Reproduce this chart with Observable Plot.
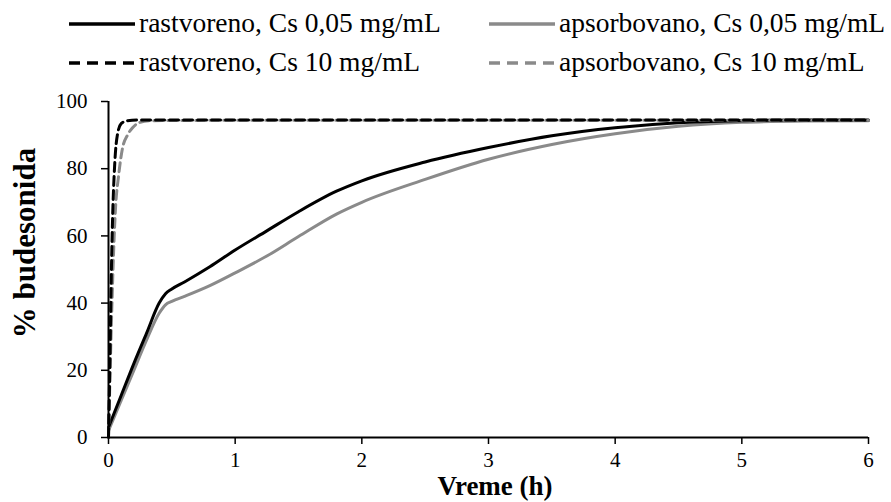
<!DOCTYPE html>
<html>
<head>
<meta charset="utf-8">
<script src="https://cdn.jsdelivr.net/npm/d3@7"></script>
<script src="https://cdn.jsdelivr.net/npm/@observablehq/plot@0.6"></script>
<style>
  html, body { margin: 0; padding: 0; background: #fff; }
</style>
</head>
<body>
<div id="wrap">
  <div id="legend"></div>
  <div id="chart"></div>
</div>
<script>
// ---- data ----
const seriesNames = [
  "rastvoreno, Cs 0,05 mg/mL",
  "apsorbovano, Cs 0,05 mg/mL",
  "rastvoreno, Cs 10 mg/mL",
  "apsorbovano, Cs 10 mg/mL"
];
const timeSolid = [0, 0.1, 0.2, 0.3, 0.4, 0.45, 0.5, 0.6, 0.8, 1, 1.25, 1.5, 1.8, 2, 2.5, 3, 3.5, 4, 4.5, 5, 5.5, 6];
const rastvoreno005 = [3, 12.5, 22, 31, 40, 42.8, 44.2, 46.3, 50.8, 55.8, 61.5, 67.2, 73.3, 76.4, 82, 86.3, 89.8, 92.2, 93.7, 94.3, 94.5, 94.5];
const apsorbovano005 = [2, 11, 20, 29, 37, 39.5, 40.5, 42, 45.2, 49, 54, 59.8, 66.5, 70, 76.8, 82.8, 87.2, 90.4, 92.6, 93.8, 94.2, 94.3];
const timeDashedBlack = [0, 0.01, 0.02, 0.03, 0.05, 0.07, 0.1, 0.15, 0.25, 1, 2, 3, 4, 5, 6];
const rastvoreno10 = [0, 20, 44, 62, 82, 90, 93.4, 94.3, 94.5, 94.5, 94.5, 94.5, 94.5, 94.5, 94.5];
const timeDashedGray = [0, 0.02, 0.04, 0.055, 0.08, 0.11, 0.15, 0.19, 0.25, 0.35, 1, 2, 3, 4, 5, 6];
const apsorbovano10 = [0, 30, 55, 68, 78, 86, 90, 92.2, 93.8, 94.3, 94.4, 94.4, 94.4, 94.4, 94.4, 94.4];
const xTicks = [0, 1, 2, 3, 4, 5, 6];
const yTicks = [0, 20, 40, 60, 80, 100];
const xTitle = "Vreme (h)";
const yTitle = "% budesonida";

// ---- build tables ----
const build = (name, ts, vs) => ts.map((t, i) => ({series: name, t, v: vs[i]}));
const dSolidBlack = build(seriesNames[0], timeSolid, rastvoreno005);
const dSolidGray = build(seriesNames[1], timeSolid, apsorbovano005);
const dDashBlack = build(seriesNames[2], timeDashedBlack, rastvoreno10);
const dDashGray = build(seriesNames[3], timeDashedGray, apsorbovano10);

const BLACK = "#000000";
const GRAY = "#8a8a8a";
const DASH = "9,5";
const FONT = "Liberation Serif";

const wrap = document.getElementById("wrap");
Object.assign(wrap.style, {width: "891px", height: "502px", position: "relative", fontFamily: FONT, color: "#000", background: "#fff"});

// ---- legend ----
const legend = document.getElementById("legend");
Object.assign(legend.style, {position: "relative", width: "891px", height: "80px"});
const legendItems = [
  {name: seriesNames[0], color: BLACK, dash: false, left: 69, y: 24},
  {name: seriesNames[1], color: GRAY, dash: false, left: 489, y: 24},
  {name: seriesNames[2], color: BLACK, dash: true, left: 69, y: 63},
  {name: seriesNames[3], color: GRAY, dash: true, left: 489, y: 63}
];
const NS = "http://www.w3.org/2000/svg";
for (const it of legendItems) {
  const s = document.createElementNS(NS, "svg");
  s.setAttribute("width", "66");
  s.setAttribute("height", "10");
  s.setAttribute("style", `position:absolute;left:${it.left}px;top:${it.y - 5}px`);
  const ln = document.createElementNS(NS, "line");
  ln.setAttribute("x1", "0"); ln.setAttribute("x2", "66");
  ln.setAttribute("y1", "5"); ln.setAttribute("y2", "5");
  ln.setAttribute("stroke", it.color);
  ln.setAttribute("stroke-width", "3.5");
  if (it.dash) ln.setAttribute("stroke-dasharray", "11,7");
  s.appendChild(ln);
  legend.appendChild(s);
  const tx = document.createElement("div");
  tx.textContent = it.name;
  tx.setAttribute("style", `position:absolute;left:${it.left + 70}px;top:${it.y - 18}px;height:34px;line-height:34px;font-family:'Liberation Serif';font-size:27.5px;white-space:nowrap;color:#000`);
  legend.appendChild(tx);
}

// ---- chart ----
const chart = Plot.plot({
  width: 891,
  height: 422,
  marginLeft: 108,
  marginRight: 23,
  marginTop: 21,
  marginBottom: 65,
  x: {domain: [0, 6]},
  y: {domain: [0, 100]},
  style: {fontFamily: FONT, fontSize: "21px", color: "#000", background: "#fff", overflow: "visible"},
  marks: [
    Plot.axisX({ticks: xTicks, tickFormat: d3.format("d"), tickSize: 7, tickPadding: 8, label: null, strokeWidth: 1.5, fontSize: 21}),
    Plot.axisY({ticks: yTicks, tickFormat: d3.format("d"), tickSize: 7, tickPadding: 14, label: null, strokeWidth: 1.5, fontSize: 21}),
    Plot.line(dSolidGray, {x: "t", y: "v", stroke: GRAY, strokeWidth: 3, curve: "monotone-x"}),
    Plot.line(dSolidBlack, {x: "t", y: "v", stroke: BLACK, strokeWidth: 3, curve: "monotone-x"}),
    Plot.line(dDashGray, {x: "t", y: "v", stroke: GRAY, strokeWidth: 3, strokeDasharray: DASH, curve: "monotone-x"}),
    Plot.line(dDashBlack, {x: "t", y: "v", stroke: BLACK, strokeWidth: 3, strokeDasharray: DASH, curve: "monotone-x"}),
    Plot.ruleY([0], {stroke: BLACK, strokeWidth: 2}),
    Plot.ruleX([0], {stroke: BLACK, strokeWidth: 2})
  ]
});
document.getElementById("chart").appendChild(chart);

// ---- axis titles ----
const xt = document.createElement("div");
xt.textContent = xTitle;
xt.setAttribute("style", "position:absolute;left:495px;top:486px;transform:translate(-50%,-50%);font-family:'Liberation Serif';font-weight:bold;font-size:27px;white-space:nowrap;line-height:22px;height:22px");
wrap.appendChild(xt);
const yt = document.createElement("div");
yt.textContent = yTitle;
yt.setAttribute("style", "position:absolute;left:25px;top:243px;transform:translate(-50%,-50%) rotate(-90deg);font-family:'Liberation Serif';font-weight:bold;font-size:31px;white-space:nowrap;line-height:30px");
wrap.appendChild(yt);
</script>
</body>
</html>
